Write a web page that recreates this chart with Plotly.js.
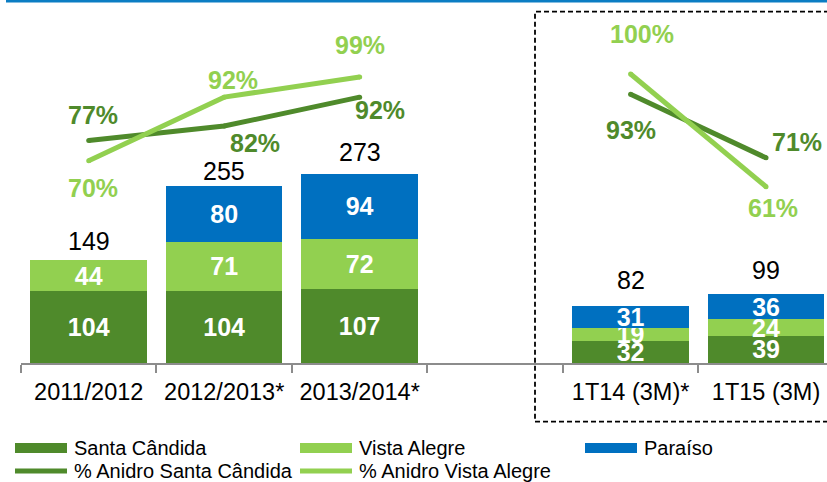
<!DOCTYPE html>
<html>
<head>
<meta charset="utf-8">
<script src="https://cdn.plot.ly/plotly-3.0.1.min.js"></script>
<style>
  html, body { margin: 0; padding: 0; background: #ffffff; }
  #chart { width: 827px; height: 482px; }
</style>
</head>
<body>
<div id="chart"></div>
<script>
// ---------------- DATA ----------------
const categories = ['2011/2012', '2012/2013*', '2013/2014*', ' ', '1T14 (3M)*', '1T15 (3M)'];
const santaCandida = [104, 104, 107, null, 32, 39];
const vistaAlegre  = [44, 71, 72, null, 19, 24];
const paraiso      = [null, 80, 94, null, 31, 36];
const totals       = [149, 255, 273, null, 82, 99];
const anidroSanta  = [77, 82, 92, null, 93, 71];
const anidroVista  = [70, 92, 99, null, 100, 61];
const seriesNames  = ['Santa Cândida', 'Vista Alegre', 'Paraíso', '% Anidro Santa Cândida', '% Anidro Vista Alegre'];

// ---------------- STYLE ----------------
const FONT = 'Liberation Sans, Arial, sans-serif';
const C_DARK = '#4F8A2B';
const C_LIGHT = '#92D050';
const C_BLUE = '#0070C0';
const M = { l: 21, r: 0, t: 20, b: 119 };
const W = 827, H = 482;
const PW = W - M.l - M.r, PH = H - M.t - M.b;
const px2x = px => (px - M.l) / PW;
const py2y = py => (H - M.b - py) / PH;

// label offsets (pixels) for annotations
const totalsShiftY = [19.5, 15.3, 21.6, 0, 25.7, 24.3];
const santaLabelShift = [[4, 26], [31, -17], [20, -13], null, [0, -36], [31, 16]];
const vistaLabelShift = [[4, -27], [9, 17], [0, 32], null, [11, 40], [7, -21]];

const lbl = arr => arr.map(v => (v == null ? '' : String(v)));
const inBarFont = { family: FONT, size: 25, color: '#ffffff', weight: 'bold' };

function barTrace(name, vals, color) {
  return {
    type: 'bar', name: name, x: categories, y: vals,
    text: lbl(vals), textposition: 'inside', insidetextanchor: 'middle', textangle: 0,
    constraintext: 'none', textfont: inBarFont, cliponaxis: false,
    marker: { color: color, line: { width: 0 } }, hoverinfo: 'skip', showlegend: false
  };
}
function lineTrace(name, vals, color) {
  return {
    type: 'scatter', mode: 'lines+markers', name: name, x: categories, y: vals,
    yaxis: 'y2', connectgaps: false,
    line: { color: color, width: 5 }, marker: { color: color, size: 5 },
    hoverinfo: 'skip', showlegend: false, cliponaxis: false
  };
}

const traces = [
  barTrace(seriesNames[0], santaCandida, C_DARK),
  barTrace(seriesNames[1], vistaAlegre, C_LIGHT),
  barTrace(seriesNames[2], paraiso, C_BLUE),
  lineTrace(seriesNames[3], anidroSanta, C_DARK),
  lineTrace(seriesNames[4], anidroVista, C_LIGHT)
];

const annotations = [];
// totals above stacks
categories.forEach((c, i) => {
  if (totals[i] == null) return;
  const stackTop = (santaCandida[i] || 0) + (vistaAlegre[i] || 0) + (paraiso[i] || 0);
  annotations.push({
    xref: 'x', yref: 'y', x: c, y: stackTop, text: String(totals[i]),
    showarrow: false, yanchor: 'middle', xanchor: 'center', yshift: totalsShiftY[i],
    font: { family: FONT, size: 25, color: '#000000' }
  });
});
// percentage labels
function pctLabels(vals, shifts, color) {
  categories.forEach((c, i) => {
    if (vals[i] == null) return;
    annotations.push({
      xref: 'x', yref: 'y2', x: c, y: vals[i], text: vals[i] + '%',
      showarrow: false, xanchor: 'center', yanchor: 'middle',
      xshift: shifts[i][0], yshift: shifts[i][1],
      font: { family: FONT, size: 25, color: color, weight: 'bold' }
    });
  });
}
pctLabels(anidroSanta, santaLabelShift, C_DARK);
pctLabels(anidroVista, vistaLabelShift, C_LIGHT);

// manual legend
const shapes = [];
const legendItems = [
  { name: seriesNames[0], color: C_DARK, kind: 'bar', x: 15, y: 448 },
  { name: seriesNames[1], color: C_LIGHT, kind: 'bar', x: 300, y: 448 },
  { name: seriesNames[2], color: C_BLUE, kind: 'bar', x: 585, y: 448 },
  { name: seriesNames[3], color: C_DARK, kind: 'line', x: 15, y: 471 },
  { name: seriesNames[4], color: C_LIGHT, kind: 'line', x: 300, y: 471 }
];
legendItems.forEach(it => {
  if (it.kind === 'bar') {
    shapes.push({ type: 'rect', xref: 'paper', yref: 'paper',
      x0: px2x(it.x), x1: px2x(it.x + 52), y0: py2y(it.y + 5), y1: py2y(it.y - 5),
      fillcolor: it.color, line: { width: 0 } });
  } else {
    shapes.push({ type: 'line', xref: 'paper', yref: 'paper',
      x0: px2x(it.x), x1: px2x(it.x + 52), y0: py2y(it.y), y1: py2y(it.y),
      line: { color: it.color, width: 5 } });
  }
  annotations.push({
    xref: 'paper', yref: 'paper', x: px2x(it.x + 57), y: py2y(it.y),
    xanchor: 'left', yanchor: 'middle', showarrow: false, text: it.name,
    font: { family: FONT, size: 20, color: '#000000' }
  });
});
// header blue line
shapes.push({ type: 'line', xref: 'paper', yref: 'paper',
  x0: px2x(6), x1: px2x(840), y0: py2y(1), y1: py2y(1),
  line: { color: '#0B7DC3', width: 3 } });
// dashed box around quarterly data
shapes.push({ type: 'rect', xref: 'paper', yref: 'paper',
  x0: px2x(535), x1: px2x(845), y0: py2y(421.7), y1: py2y(11.7),
  line: { color: '#000000', width: 1.8, dash: '5px,3px' }, fillcolor: 'rgba(0,0,0,0)' });

const layout = {
  width: W, height: H, margin: M,
  paper_bgcolor: '#ffffff', plot_bgcolor: '#ffffff',
  barmode: 'stack', bargap: 0.14, showlegend: false,
  font: { family: FONT, color: '#000000' },
  xaxis: {
    type: 'category', categoryorder: 'array', categoryarray: categories,
    range: [-0.5, 5.45], tickson: 'boundaries', ticks: 'outside', ticklen: 8,
    tickwidth: 2, tickcolor: '#8C8C8C', showline: true, linecolor: '#8C8C8C', linewidth: 2,
    showgrid: false, zeroline: false, fixedrange: true, ticklabelstandoff: 7,
    tickfont: { family: FONT, size: 23.5, color: '#000000', weight: 'normal' }
  },
  yaxis: { range: [0, 494.2], visible: false, showgrid: false, zeroline: false, fixedrange: true },
  yaxis2: { range: [0, 118.7], overlaying: 'y', visible: false, showgrid: false, zeroline: false, fixedrange: true },
  annotations: annotations,
  shapes: shapes
};

Plotly.newPlot('chart', traces, layout, { staticPlot: true, displayModeBar: false });
</script>
</body>
</html>
